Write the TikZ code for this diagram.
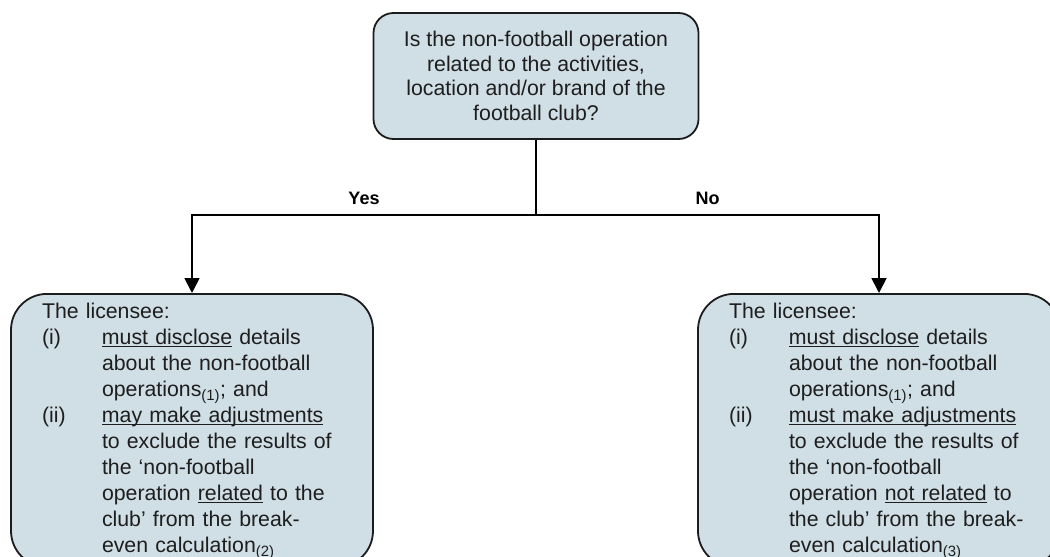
\documentclass[tikz,border=0pt]{standalone}
\usepackage{fontspec}
\setmainfont{Liberation Sans}
\usetikzlibrary{arrows.meta,positioning}
\definecolor{boxfill}{RGB}{208,222,230}
\definecolor{edgegray}{RGB}{28,28,28}
\definecolor{textgray}{RGB}{30,30,30}
\newcommand{\undl}[1]{\underline{\smash{#1}}}

\begin{document}
\begin{tikzpicture}[x=1pt,y=-1pt,
    question/.style={draw=edgegray, line width=1.8pt, fill=boxfill, rounded corners=20pt,
        minimum width=325pt, minimum height=126pt, align=center, text=textgray,
        font=\fontsize{21.3}{24.6}\selectfont},
    outcome/.style={draw=edgegray, line width=1.8pt, fill=boxfill, rounded corners=36pt,
        text width=300pt, inner xsep=31pt, inner ysep=6.5pt, text=textgray,
        font=\fontsize{21.3}{26}\selectfont},
    flow/.style={line width=1.8pt, -{Triangle[width=15pt,length=15pt]}},
    answer/.style={font=\fontsize{18}{20}\selectfont\bfseries, above=6pt}]

    \path[use as bounding box, clip] (0,0) rectangle (1050,557);

    % Question
    \node[question] (q) at (536,76)
        {Is the non-football operation\\ related to the activities,\\
         location and/or brand of the\\ football club?};

    % Outcomes
    \node[outcome, anchor=north] (yesbox) at (192,293) {%
        \begin{tabular}{@{}p{60pt}@{}l@{}}
        \multicolumn{2}{@{}l@{}}{The licensee:}\\
        (i)  & \undl{must disclose} details\\
             & about the non-football\\
             & operations\textsubscript{(1)}; and\\
        (ii) & \undl{may make adjustments}\\
             & to exclude the results of\\
             & the `non-football\\
             & operation \undl{related} to the\\
             & club' from the break-\\
             & even calculation\textsubscript{(2)}
        \end{tabular}};
    \node[outcome, anchor=north] (nobox) at (879,293) {%
        \begin{tabular}{@{}p{60pt}@{}l@{}}
        \multicolumn{2}{@{}l@{}}{The licensee:}\\
        (i)  & \undl{must disclose} details\\
             & about the non-football\\
             & operations\textsubscript{(1)}; and\\
        (ii) & \undl{must make adjustments}\\
             & to exclude the results of\\
             & the `non-football\\
             & operation \undl{not related} to\\
             & the club' from the break-\\
             & even calculation\textsubscript{(3)}
        \end{tabular}};

    % Connectors
    \coordinate (split) at (q.south |- 0,215);
    \draw[line width=1.8pt] (q.south) -- (split);
    \draw[flow] (split) -| node[answer, pos=0.25] {Yes} (yesbox.north);
    \draw[flow] (split) -| node[answer, pos=0.25] {No} (nobox.north);
\end{tikzpicture}
\end{document}
